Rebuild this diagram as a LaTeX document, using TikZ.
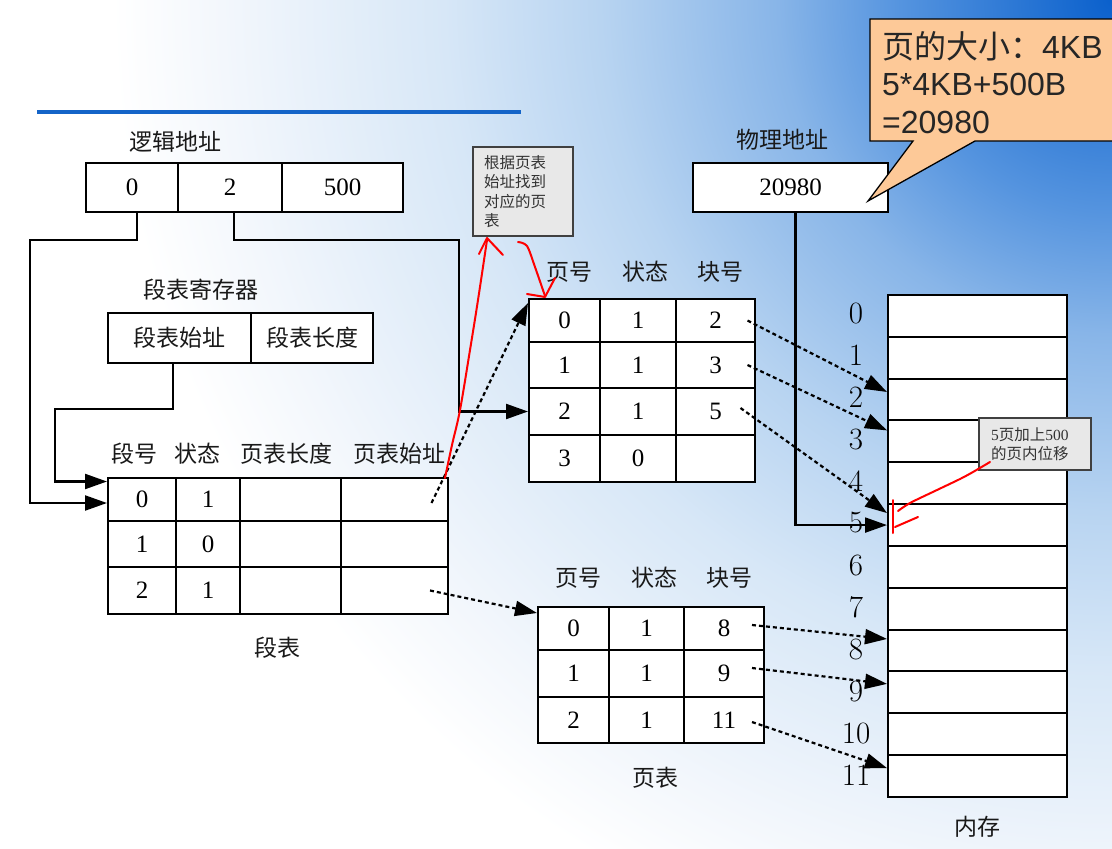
\documentclass[tikz,border=0pt]{standalone}
\usepackage{fontspec}
\newfontfamily\cjk{Noto Sans CJK SC}
\newfontfamily\sansf{Liberation Sans}
\newfontfamily\serf{Liberation Serif}
\usetikzlibrary{arrows.meta,calc}
\definecolor{bgc0}{HTML}{0A60CC}
\definecolor{bgc1}{HTML}{5594DF}
\definecolor{bgc2}{HTML}{88B5E8}
\definecolor{bgc3}{HTML}{B8D4F1}
\definecolor{bgc4}{HTML}{D7E7F7}
\definecolor{bgc5}{HTML}{F3F7FC}
\definecolor{topline}{HTML}{1464C8}
\definecolor{callfill}{HTML}{FDC998}
\definecolor{notefill}{HTML}{E8E8E8}
\pgfdeclareradialshading{bgrad}{\pgfpoint{0bp}{0bp}}{color(0bp)=(bgc0); color(5.3bp)=(bgc1); color(8.35bp)=(bgc2); color(12.8bp)=(bgc3); color(16.7bp)=(bgc4); color(22.25bp)=(bgc5); color(25bp)=(white); color(50bp)=(white)}
\tikzset{
  box/.style={draw=black, line width=2pt, fill=white, inner sep=0pt, anchor=center},
  num/.style={font=\serf\fontsize{25}{28}\selectfont},
  cjkcell/.style={font=\cjk\fontsize{23}{28}\selectfont, text=black!90},
  lbl/.style={font=\cjk\fontsize{23}{28}\selectfont, inner sep=0pt, text=black!90},
  memnum/.style={font=\fontsize{31}{33}\selectfont, inner sep=0pt},
  conn/.style={line width=2.2pt, draw=black},
  tip/.style={-{Triangle[length=22pt,width=15pt]}},
  dconn/.style={conn, dash pattern=on 4pt off 3pt},
  redmark/.style={draw=red, line width=2pt, line cap=round, line join=round},
  note/.style={draw=black!75, line width=1.4pt, fill=notefill, font=\cjk\fontsize{15.5}{19.5}\selectfont, text=black!80, align=left},
  callline/.style={anchor=base west, inner sep=0pt, font=\fontsize{32}{38}\selectfont, text=black!85},
}
\begin{document}
\begin{tikzpicture}[x=1pt,y=-1pt]
\useasboundingbox (0,0) rectangle (1112,849);
% background
\begin{scope}
  \clip (0,0) rectangle (1112,849);
  \fill[white] (0,0) rectangle (1112,849);
  \shade[shading=bgrad] (1112,0) circle[radius=1000pt];
\end{scope}
\draw[line width=4.5pt, draw=topline] (37,112) -- (521,112);

% logical address
\node[lbl] (lalbl) at (175,142) {逻辑地址};
\node[box, num, minimum width=92pt, minimum height=49pt] (la0) at (132,187.5) {0};
\node[box, num, minimum width=104pt, minimum height=49pt] (la1) at (230,187.5) {2};
\node[box, num, minimum width=121pt, minimum height=49pt] (la2) at (342.5,187.5) {500};

% physical address
\node[lbl] (palbl) at (782,140) {物理地址};
\node[box, num, minimum width=195pt, minimum height=49pt] (pa) at (790.5,187.5) {20980};

% segment table register
\node[lbl] (rglbl) at (201,290) {段表寄存器};
\node[box, cjkcell, minimum width=143pt, minimum height=50pt] (rg0) at (179.5,338) {段表始址};
\node[box, cjkcell, minimum width=122pt, minimum height=50pt] (rg1) at (312,338) {段表长度};

% segment table
\node[lbl] (sh0) at (134,454) {段号};
\node[lbl] (sh1) at (197,454) {状态};
\node[lbl] (sh2) at (286,454) {页表长度};
\node[lbl] (sh3) at (399,454) {页表始址};
\node[box, num, minimum width=68pt, minimum height=43pt] (s00) at (142,499.5) {0};
\node[box, num, minimum width=64pt, minimum height=43pt] (s01) at (208,499.5) {1};
\node[box, num, minimum width=101pt, minimum height=43pt] (s02) at (290.5,499.5) {};
\node[box, num, minimum width=107pt, minimum height=43pt] (s03) at (394.5,499.5) {};
\node[box, num, minimum width=68pt, minimum height=46pt] (s10) at (142,544) {1};
\node[box, num, minimum width=64pt, minimum height=46pt] (s11) at (208,544) {0};
\node[box, num, minimum width=101pt, minimum height=46pt] (s12) at (290.5,544) {};
\node[box, num, minimum width=107pt, minimum height=46pt] (s13) at (394.5,544) {};
\node[box, num, minimum width=68pt, minimum height=47pt] (s20) at (142,590.5) {2};
\node[box, num, minimum width=64pt, minimum height=47pt] (s21) at (208,590.5) {1};
\node[box, num, minimum width=101pt, minimum height=47pt] (s22) at (290.5,590.5) {};
\node[box, num, minimum width=107pt, minimum height=47pt] (s23) at (394.5,590.5) {};
\node[lbl] (stlbl) at (277,648) {段表};

% page table 1
\node[lbl] (ph0) at (569,272) {页号};
\node[lbl] (ph1) at (645,272) {状态};
\node[lbl] (ph2) at (720,272) {块号};
\node[box, num, minimum width=71pt, minimum height=43pt] (p00) at (564.5,320.5) {0};
\node[box, num, minimum width=76pt, minimum height=43pt] (p01) at (638,320.5) {1};
\node[box, num, minimum width=79pt, minimum height=43pt] (p02) at (715.5,320.5) {2};
\node[box, num, minimum width=71pt, minimum height=46pt] (p10) at (564.5,365) {1};
\node[box, num, minimum width=76pt, minimum height=46pt] (p11) at (638,365) {1};
\node[box, num, minimum width=79pt, minimum height=46pt] (p12) at (715.5,365) {3};
\node[box, num, minimum width=71pt, minimum height=47pt] (p20) at (564.5,411.5) {2};
\node[box, num, minimum width=76pt, minimum height=47pt] (p21) at (638,411.5) {1};
\node[box, num, minimum width=79pt, minimum height=47pt] (p22) at (715.5,411.5) {5};
\node[box, num, minimum width=71pt, minimum height=47pt] (p30) at (564.5,458.5) {3};
\node[box, num, minimum width=76pt, minimum height=47pt] (p31) at (638,458.5) {0};
\node[box, num, minimum width=79pt, minimum height=47pt] (p32) at (715.5,458.5) {};

% page table 2
\node[lbl] (qh0) at (578,578) {页号};
\node[lbl] (qh1) at (654,578) {状态};
\node[lbl] (qh2) at (729,578) {块号};
\node[box, num, minimum width=71pt, minimum height=43pt] (q00) at (573.5,628.5) {0};
\node[box, num, minimum width=75pt, minimum height=43pt] (q01) at (646.5,628.5) {1};
\node[box, num, minimum width=80pt, minimum height=43pt] (q02) at (724,628.5) {8};
\node[box, num, minimum width=71pt, minimum height=47pt] (q10) at (573.5,673.5) {1};
\node[box, num, minimum width=75pt, minimum height=47pt] (q11) at (646.5,673.5) {1};
\node[box, num, minimum width=80pt, minimum height=47pt] (q12) at (724,673.5) {9};
\node[box, num, minimum width=71pt, minimum height=46pt] (q20) at (573.5,720) {2};
\node[box, num, minimum width=75pt, minimum height=46pt] (q21) at (646.5,720) {1};
\node[box, num, minimum width=80pt, minimum height=46pt] (q22) at (724,720) {11};
\node[lbl] (ptlbl) at (655,778) {页表};

% memory
\foreach \k in {0,...,11} {
  \node[box, minimum width=179pt, minimum height=41.83pt] (mem\k) at (977.5,{295+41.83*(\k+0.5)}) {};
  \node[memnum] (ml\k) at (856,{313+42*\k}) {\k};
}
\node[lbl] (memlbl) at (977,827) {内存};

% connectors
\coordinate (c1) at (30,240);
\coordinate (c2) at (459,240);
\coordinate (c3) at (55,409);
\draw[conn, tip] ([xshift=5pt]la0.south) |- (c1) |- ([yshift=-3.5pt]s00.west);
\draw[conn, tip] ([xshift=4pt]la1.south) |- (c2) |- (p20.west);
\draw[conn, tip] ([xshift=-6.5pt]rg0.south) |- (c3) |- ([yshift=18pt]s00.west);
\draw[dconn, tip] ([shift={(37pt,-3.5pt)}]s03.center) -- ([yshift=-5pt]p00.north west);
\draw[dconn, tip] ([shift={(35.5pt,0pt)}]s23.center) -- ([yshift=-7pt]q00.north west);
\draw[dconn, tip] ([xshift=32pt]p02.center) -- ([yshift=7.6pt]mem2.west);
\draw[dconn, tip] ([xshift=32pt]p12.center) -- ([yshift=11pt]mem3.west);
\draw[dconn, tip] ([shift={(25pt,3.5pt)}]p22.center) -- ([yshift=12pt]mem5.west);
\draw[conn, tip] ([xshift=5pt]pa.south) |- (mem5.west);
\draw[dconn, tip] ([shift={(28pt,3.5pt)}]q02.center) -- ([yshift=11.6pt]mem8.west);
\draw[dconn, tip] ([shift={(28pt,5.5pt)}]q12.center) -- ([yshift=8.5pt]mem9.west);
\draw[dconn, tip] ([shift={(28pt,-2pt)}]q22.center) -- ([yshift=8pt]mem11.west);

% notes
\node[note, minimum width=100pt, minimum height=89pt, text width=78pt, inner xsep=11pt, inner ysep=0pt] (note1) at (523,191.5) {根据页表\\始址找到\\对应的页\\表};
\node[note, minimum width=112pt, minimum height=52pt, text width=88pt, inner xsep=12pt, inner ysep=0pt] (note2) at (1035,444) {{\serf 5}页加上{\serf 500}\\的页内位移};

% callout
\draw[line width=1.3pt, fill=callfill] (870,19) -- (1120,19) -- (1120,141) -- (975,141) -- (868,201) -- (913,141) -- (870,141) -- cycle;
\node[callline] (cl1) at (882,58) {{\cjk 页的大小：}{\sansf 4KB}};
\node[callline] (cl2) at (882,95.5) {\sansf 5*4KB+500B};
\node[callline] (cl3) at (882,133) {\sansf =20980};

% red hand marks
\draw[redmark] plot[smooth, tension=0.6] coordinates {(445,478) (452,445) (460,410) (470,350) (478,300) (487,240)};
\draw[redmark] (479,254) -- (487,238) -- (503,255);
\draw[redmark] plot[smooth] coordinates {(518,242) (527,246) (535,267) (545,296)};
\draw[redmark] (527,294) -- (545,297) -- (555,278);
\draw[redmark] plot[smooth] coordinates {(990,462) (973,472) (960,479) (937,490) (910,503) (898,511)};
\draw[redmark] (893,500) -- (893,533);
\draw[redmark] (895,527) -- (918,517);
\end{tikzpicture}
\end{document}
